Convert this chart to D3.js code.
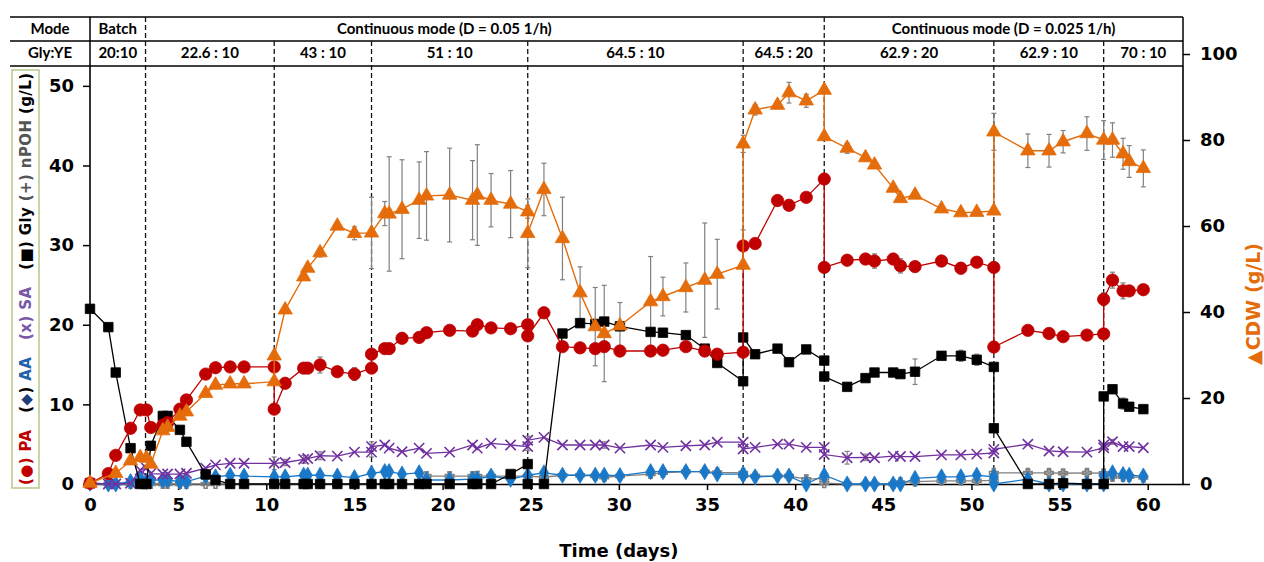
<!DOCTYPE html>
<html><head><meta charset="utf-8">
<script src="https://cdn.jsdelivr.net/npm/d3@7"></script>
<style>
body{margin:0;background:#fff;}
svg{display:block;}
</style></head>
<body><svg id="chart" width="1264" height="562"></svg>
<script>
// ---------------- DATA ----------------
const days = [0,1.04,1.46,2.3,2.85,3.2,3.45,4.13,4.4,5.1,5.47,6.56,7.12,7.95,8.74,10.45,10.45,11.07,12.12,12.35,13.05,14.03,15.0,15.97,15.97,16.72,16.97,17.7,18.67,19.09,20.4,21.7,21.97,22.75,23.86,24.83,24.83,25.75,26.8,27.8,28.66,29.17,30.06,31.8,32.5,33.8,34.87,35.58,37.05,37.05,37.73,39.0,39.65,40.63,41.65,41.65,42.95,43.99,44.5,45.56,45.97,46.8,48.3,49.4,50.3,51.27,51.27,53.2,54.4,55.2,56.55,57.5,57.5,58.0,58.6,58.95,59.75];
const paVals = [0.1,1.3,3.6,7.0,9.3,9.3,7.1,7.4,7.7,9.4,10.55,13.8,14.6,14.7,14.7,14.7,9.4,12.65,14.55,14.55,14.95,14.1,13.8,14.55,16.3,17.0,17.0,18.3,18.4,19.0,19.3,19.2,20.0,19.6,19.5,20.0,18.6,21.5,17.25,17.1,17.0,17.25,16.7,16.7,16.8,17.25,16.7,16.3,16.55,29.9,30.2,35.6,35.0,36.0,38.3,27.2,28.1,28.25,28.0,28.25,27.4,27.3,28.0,27.1,27.85,27.2,17.2,19.3,18.9,18.5,18.7,18.85,23.2,25.6,24.25,24.25,24.4];
const paErr = [0,0,0,0,0,0,0,0,0,0,0,0,0,0,0,0,0,0.6,0.3,0.3,1.0,0.3,0.8,0.3,0.3,0.3,0.3,0.3,0.3,0.3,0.3,0.3,0.3,0.3,0.4,0.3,0.3,0.3,0.3,0.3,0.3,0.3,0.3,0.3,0.3,0.3,0.3,0.3,0.3,2.0,0.5,0.3,0.3,0.3,0.3,0.5,0.5,0.5,0.9,0.5,0.9,0.5,0.5,0.7,0.5,0.5,0.5,0.5,0.5,0.5,0.5,0.5,0.8,1.0,1.0,0.6,0.6];
const cdwVals = [0.2,null,2.5,5.4,6.2,6.0,4.65,12.4,13.2,15.8,16.8,21.1,23.0,23.3,23.3,23.8,29.8,40.5,48.2,50.2,53.8,60.0,58.3,58.4,null,62.9,62.8,63.9,66.0,67.0,67.2,66.0,67.2,66.0,65.1,63.3,58.3,68.5,57.1,44.5,36.6,35.0,36.8,42.4,43.6,45.7,47.4,48.8,50.9,79.1,87.0,88.1,91.0,89.1,91.6,80.8,78.1,75.9,74.2,68.8,66.4,67.2,64.0,63.1,63.2,63.5,81.9,77.5,77.5,79.6,81.5,80.0,null,80.0,76.8,75.0,73.4];
const cdwErr = [0,0,0,0,0,0,0,0,0,0,0,0,0,0,0,0,0,0,0,0,1.0,0,1.5,8.3,0,2.8,13.3,11.5,8.9,10.3,10.9,9.2,11.7,6.2,7.8,1.5,8.0,6.1,9.6,6.0,9.1,11.2,5.4,10.5,4.5,5.7,13.3,8.1,0.8,2.0,1.2,0.8,2.4,1.5,0.8,0.8,1.2,0.8,0.5,0.5,0.5,0.5,0.5,0.5,0.5,0.5,4.3,3.9,3.8,2.6,3.9,4.5,0,4.0,3.6,3.7,4.3];
const glyVals = [22.0,19.7,14.0,4.5,0,0,4.8,8.55,8.55,6.8,5.3,1.2,0.5,0,0,0,null,0,0,0,0,0,0,0,null,0,0,0,0,0,0,0,0,0,1.25,2.5,0,0,18.9,20.2,20.1,20.4,19.8,19.1,19.0,18.7,17.0,15.2,12.9,18.4,16.3,17.0,15.3,16.9,15.5,13.5,12.2,13.3,14.0,14.0,13.8,14.1,16.1,16.1,15.6,14.7,7.0,0,0,0.1,0,0,11.0,11.9,10.1,9.7,9.4];
const glyErr = [0,0,0,0,0,0,0,0,0.4,0,0,0,0,0,0,0,0,0,0,0,0,0,0,0,0,0,0,0,0,0,0,0,0,0,0,0,0,0,0,0,0,0,0,0,0,0,0,0,0,0,0,0,0,0,0,0,0,0,0,0,0,1.6,0,0.7,0.7,0,0,0,0,0,0,0,0,0,0.7,0,0];
const saVals = [0.1,0,0,0.1,1.75,2.0,1.3,1.25,1.25,1.25,1.35,2.0,2.4,2.6,2.6,2.6,null,2.7,3.1,3.2,3.55,3.5,4.0,4.0,4.7,4.9,4.5,4.05,4.5,3.85,4.0,4.9,4.5,5.1,4.9,4.7,5.5,5.85,4.9,4.9,4.9,4.9,4.5,4.9,4.6,4.8,4.9,5.25,5.25,4.4,4.6,5.0,5.0,4.6,4.6,3.7,3.3,3.35,3.3,3.5,3.45,3.45,3.65,3.65,3.75,3.9,4.35,5.0,4.15,4.05,4.0,4.55,4.9,5.3,4.7,4.7,4.55];
const saErr = [0,0,0,0,0,0,0,0,0,0,0,0,0,0,0,0.8,0,0.4,0.5,0,0.5,0,0,0.6,0.6,0,0,0,0,0,0,0,0,0,0,0.5,0.5,0,0,0,0,0.4,0,0,0,0,0,0,0,0,0,0,0,0,0,0,0.8,0.4,0,0,0,0,0,0,0,0,0,0,0,0,0,0,0,0.3,0,0,0];
const aaVals = [0.1,0,0,0.3,0.7,0.3,0.5,0.5,0.5,0.3,0.3,1.0,0.9,1.1,1.0,0.9,null,0.9,1.1,1.1,1.1,1.0,0.8,1.35,null,1.55,1.55,1.25,1.4,0.5,0.5,0.6,0.6,1.0,0.6,1.1,null,1.4,1.1,1.1,1.1,1.1,1.05,1.55,1.55,1.55,1.55,1.25,1.25,1.1,0.9,1.0,1.0,0,1.1,null,0,0,0,0,0,0.7,0.9,0.9,1.1,0.9,0,0.6,0,0,0,0,1.0,1.4,1.2,1.1,1.0];
const npohVals = [0,0,0,0,0,0,0,0,0,0,0,0,0,0,0,0,null,0,0,0,0,0,0,0,null,0,0,0,0,1.0,1.0,1.0,1.0,1.0,1.0,1.0,null,0.85,1.1,1.1,1.0,0.85,1.0,1.25,1.4,1.55,1.55,1.45,1.4,1.0,1.0,1.0,1.0,0.6,0.7,0.1,0,0,0,0,0.2,0.3,0.4,0.4,0.4,0.45,1.4,1.4,1.4,1.35,1.4,1.35,0.2,0.9,0.9,0.9,0.8];
const npohErr = [0,0,0,0,0,0,0,0,0,0,0,0,0,0,0,0,0,0,0,0,0,0,0,0,0,0,0,0,0,0.5,0.5,0.5,0.6,0.4,0.5,0.5,0,0.3,0.3,0.3,0.4,0.4,0.3,0.5,0.4,0.4,0.4,0.3,0.3,0.4,0.4,0.3,0.3,0.5,0.4,0.3,0,0,0,0,0.2,0.3,0.3,0.3,0.3,0.3,0.3,0.4,0.4,0.4,0.4,0.4,0.3,0.4,0.4,0.4,0.4];

const phaseBounds = [3.15,10.45,15.97,24.83,37.05,41.65,51.27,57.5];
const modeLabels = ["Batch","Continuous mode (D = 0.05 1/h)","Continuous mode (D = 0.025 1/h)"];
const ratioLabels = ["20:10","22.6 : 10","43 : 10","51 : 10","64.5 : 10","64.5 : 20","62.9 : 20","62.9 : 10","70 : 10"];
const xTicks = [0,5,10,15,20,25,30,35,40,45,50,55,60];
const yLeftTicks = [0,10,20,30,40,50];
const yRightTicks = [0,20,40,60,80,100];

// ---------------- LAYOUT ----------------
const svg = d3.select("#chart");
const L = 90, R = 1183, B = 484, T = 54;
const hdrTop = 17, hdrMid = 41, hdrBot = 66, hdrLeft = 10;
const x = d3.scaleLinear().domain([0,62]).range([L,R]);
const yL = d3.scaleLinear().domain([0,54]).range([B,T]);
const yR = d3.scaleLinear().domain([0,100]).range([B,T]);

const numFont = "'DejaVu Sans', sans-serif";
const hdrFont = "Lato, 'Open Sans', sans-serif";
const hdrSize = 15;

// header table
const g = svg.append("g");
[hdrTop,hdrMid,hdrBot].forEach(yy=>{
  g.append("line").attr("x1",hdrLeft).attr("x2",R).attr("y1",yy).attr("y2",yy)
   .attr("stroke","#000").attr("stroke-width",1.5);
});
g.append("line").attr("x1",R).attr("x2",R).attr("y1",hdrTop).attr("y2",hdrBot).attr("stroke","#000").attr("stroke-width",1.5);
g.append("line").attr("x1",L).attr("x2",L).attr("y1",hdrTop).attr("y2",hdrBot).attr("stroke","#000").attr("stroke-width",1.5);

// dashed phase lines
const fullHeight = new Set([0,5]);
phaseBounds.forEach((d,i)=>{
  g.append("line").attr("x1",x(d)).attr("x2",x(d))
   .attr("y1", fullHeight.has(i)? hdrTop : hdrMid).attr("y2",B)
   .attr("stroke","#111").attr("stroke-width",1.3).attr("stroke-dasharray","5,3");
});

// header text
g.append("text").attr("x",50).attr("y",34).attr("text-anchor","middle").attr("font-family",hdrFont).attr("font-weight",700).attr("font-size",hdrSize).text("Mode");
g.append("text").attr("x",50).attr("y",58).attr("text-anchor","middle").attr("font-family",hdrFont).attr("font-weight",700).attr("font-size",hdrSize).text("Gly:YE");
const modeSpans = [[0,phaseBounds[0]],[phaseBounds[0],phaseBounds[4]],[phaseBounds[5],62]];
modeLabels.forEach((t,i)=>{
  const s = modeSpans[i];
  g.append("text").attr("x",(x(s[0])+x(s[1]))/2).attr("y",34).attr("text-anchor","middle")
   .attr("font-family",hdrFont).attr("font-weight",700).attr("font-size",hdrSize).text(t);
});
const edges = [0].concat(phaseBounds).concat([62]);
ratioLabels.forEach((t,i)=>{
  g.append("text").attr("x",(x(edges[i])+x(edges[i+1]))/2).attr("y",58).attr("text-anchor","middle")
   .attr("font-family",hdrFont).attr("font-weight",700).attr("font-size",hdrSize).text(t);
});

// axes
function styleAxis(sel){
  sel.select(".domain").attr("stroke","#000").attr("stroke-width",1.6);
  sel.selectAll(".tick line").attr("stroke","#000").attr("stroke-width",1.5);
  sel.selectAll(".tick text").attr("font-family",numFont).attr("font-weight","bold").attr("font-size",18).attr("fill","#000");
}
const xa = svg.append("g").attr("transform",`translate(0,${B})`)
  .call(d3.axisBottom(x).tickValues(xTicks).tickSizeInner(6).tickSizeOuter(0).tickPadding(8));
styleAxis(xa);
const yla = svg.append("g").attr("transform",`translate(${L},0)`)
  .call(d3.axisLeft(yL).tickValues(yLeftTicks).tickSizeInner(7).tickSizeOuter(0).tickPadding(9));
styleAxis(yla);
yla.select(".domain").attr("d",`M0,${hdrBot}V${B}`);
const yra = svg.append("g").attr("transform",`translate(${R},0)`)
  .call(d3.axisRight(yR).tickValues(yRightTicks).tickSizeInner(7).tickSizeOuter(0).tickPadding(10));
styleAxis(yra);
yra.select(".domain").attr("d",`M0,${hdrBot}V${B}`);

// axis titles
svg.append("text").attr("x",x(30)).attr("y",557).attr("text-anchor","middle")
  .attr("font-family",numFont).attr("font-weight","bold").attr("font-size",18).text("Time (days)");

// left legend-title with box
svg.append("rect").attr("x",12).attr("y",70).attr("width",27).attr("height",418)
  .attr("fill","none").attr("stroke","#b5c98a").attr("stroke-width",1.5);
const lt = svg.append("text").attr("transform","translate(31,279) rotate(-90)")
  .attr("text-anchor","middle").attr("font-family",numFont).attr("font-weight","bold").attr("font-size",15)
  .attr("textLength",412).attr("lengthAdjust","spacing");
const segs = [["(","#c00000"],["\u25CF","#c00000"],[") PA   ","#c00000"],["(","#000"],["\u25C6","#1f3f7a"],[") ","#000"],["AA   ","#2262aa"],["(x) SA   ","#7a58a8"],["(","#000"],["\u25A0","#000"],[") Gly ","#000"],["(+) nPOH ","#555"],["(g/L)","#000"]];
segs.forEach(s=>lt.append("tspan").attr("fill",s[1]).text(s[0]));
lt.attr("style","white-space:pre");

// right title
svg.append("text").attr("transform","translate(1260,304) rotate(-90)").attr("text-anchor","middle")
  .attr("font-family",numFont).attr("font-weight","bold").attr("font-size",19).attr("fill","#e46c0a")
  .text("\u25B2CDW (g/L)");

// ---------------- SERIES ----------------
const series = [
  {vals:npohVals, err:npohErr, y:yL, color:"#808080", sym:d3.symbolCross, size:40, kind:"plus", lw:1.3},
  {vals:aaVals, err:null, y:yL, color:"#1a78c8", sym:d3.symbolDiamond, size:75, kind:"fill", lw:1.3},
  {vals:saVals, err:saErr, y:yL, color:"#7030a0", sym:d3.symbolX, size:70, kind:"x", lw:1.3},
  {vals:glyVals, err:glyErr, y:yL, color:"#000000", sym:d3.symbolSquare, size:90, kind:"fill", lw:1.3},
  {vals:paVals, err:paErr, y:yL, color:"#c00000", sym:d3.symbolCircle, size:120, kind:"fill", lw:1.3},
  {vals:cdwVals, err:cdwErr, y:yR, color:"#e46c0a", sym:d3.symbolTriangle, size:90, kind:"fill", lw:1.4},
];

const plot = svg.append("g");
// error bars first
series.forEach(s=>{
  if(!s.err) return;
  const pts = days.map((d,i)=>({d, v:s.vals[i], e:s.err[i]})).filter(p=>p.v!=null && p.e>0);
  const eg = plot.append("g").attr("stroke","#808080").attr("stroke-width",1.2);
  pts.forEach(p=>{
    const y1 = s.y(p.v+p.e), y2 = s.y(Math.max(0,p.v-p.e)), xx = x(p.d);
    eg.append("line").attr("x1",xx).attr("x2",xx).attr("y1",y1).attr("y2",y2);
    eg.append("line").attr("x1",xx-2.5).attr("x2",xx+2.5).attr("y1",y1).attr("y2",y1);
    eg.append("line").attr("x1",xx-2.5).attr("x2",xx+2.5).attr("y1",y2).attr("y2",y2);
  });
});
series.forEach(s=>{
  const pts = days.map((d,i)=>({d, v:s.vals[i]})).filter(p=>p.v!=null);
  const line = d3.line().x(p=>x(p.d)).y(p=>s.y(p.v));
  plot.append("path").datum(pts).attr("d",line).attr("fill","none").attr("stroke",s.color).attr("stroke-width",s.lw);
  const sym = d3.symbol().type(s.sym).size(s.size);
  plot.append("g").selectAll("path").data(pts).join("path")
    .attr("transform",p=>`translate(${x(p.d)},${s.y(p.v)})`)
    .attr("d",sym)
    .attr("fill", s.kind==="fill"? s.color : "none")
    .attr("stroke", s.color)
    .attr("stroke-width", s.kind==="fill"? 0.8 : 1.6);
});
</script>
</body></html>
